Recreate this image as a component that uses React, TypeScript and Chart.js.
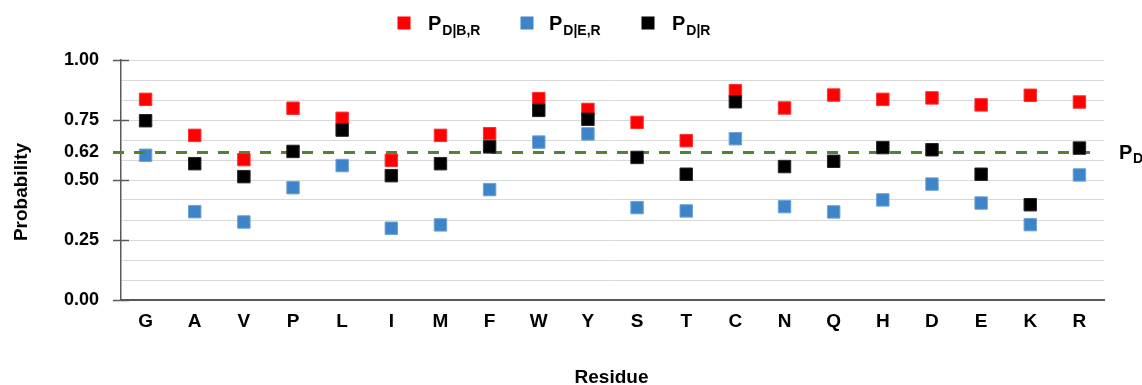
import React, { useEffect, useRef } from 'react';
import { Chart, registerables } from 'chart.js';

Chart.register(...registerables);

// ---- data ----
const residues = ['G', 'A', 'V', 'P', 'L', 'I', 'M', 'F', 'W', 'Y', 'S', 'T', 'C', 'N', 'Q', 'H', 'D', 'E', 'K', 'R'];
const pDBR = [0.836, 0.686, 0.585, 0.799, 0.757, 0.582, 0.686, 0.693, 0.839, 0.794, 0.740, 0.664, 0.872, 0.800, 0.854, 0.836, 0.842, 0.813, 0.853, 0.825];
const pDER = [0.603, 0.368, 0.325, 0.468, 0.560, 0.299, 0.313, 0.460, 0.658, 0.692, 0.385, 0.371, 0.672, 0.389, 0.367, 0.417, 0.483, 0.404, 0.314, 0.521];
const pDR = [0.747, 0.568, 0.514, 0.619, 0.708, 0.518, 0.568, 0.638, 0.790, 0.753, 0.594, 0.524, 0.826, 0.556, 0.578, 0.635, 0.626, 0.524, 0.397, 0.633];
const PD = 0.615;
const PD_LABEL = '0.62';
const majorTicks = [0, 0.25, 0.5, 0.75, 1.0];
const gridValues = [0, 1 / 12, 2 / 12, 3 / 12, 4 / 12, 5 / 12, 6 / 12, 7 / 12, 8 / 12, 9 / 12, 10 / 12, 11 / 12, 1];
const legendItems = [
  { main: 'P', sub: 'D|B,R', color: '#FF0000' },
  { main: 'P', sub: 'D|E,R', color: '#3E84C8' },
  { main: 'P', sub: 'D|R', color: '#000000' },
];

const FONT = "'Liberation Sans', Arial, sans-serif";
const AXIS_COLOR = '#595959';

const isMajor = (v: number) => majorTicks.some((m) => Math.abs(m - v) < 1e-6);

const overlayPlugin = {
  id: 'overlay',
  beforeDatasetDraw(chart: any, args: any) {
    if (args.index !== 0) return;
    const { ctx, chartArea } = chart;
    const y = chart.scales.y.getPixelForValue(PD);
    ctx.save();
    ctx.strokeStyle = '#548235';
    ctx.lineWidth = 3;
    ctx.setLineDash([11, 10]);
    ctx.beginPath();
    ctx.moveTo(chartArea.left - 8, y);
    ctx.lineTo(chartArea.right - 7, y);
    ctx.stroke();
    ctx.restore();
  },
  afterDraw(chart: any) {
    const { ctx, chartArea } = chart;
    const yScale = chart.scales.y;
    ctx.save();
    // major tick marks crossing the axis
    ctx.strokeStyle = AXIS_COLOR;
    ctx.lineWidth = 1.5;
    majorTicks.forEach((v) => {
      const y = Math.round(yScale.getPixelForValue(v)) + 0.5;
      ctx.beginPath();
      ctx.moveTo(chartArea.left - 8, y);
      ctx.lineTo(chartArea.left + 8, y);
      ctx.stroke();
    });

    ctx.fillStyle = '#000';
    // legend
    const squareX = [404, 527, 648];
    const textX = [428, 549, 672];
    legendItems.forEach((it, i) => {
      ctx.fillStyle = it.color;
      ctx.fillRect(squareX[i] - 6.5, 23 - 6.5, 13, 13);
      ctx.fillStyle = '#000';
      ctx.textAlign = 'left';
      ctx.textBaseline = 'alphabetic';
      ctx.font = `bold 20px ${FONT}`;
      ctx.fillText(it.main, textX[i], 29.5);
      const w = ctx.measureText(it.main).width;
      ctx.font = `bold 14px ${FONT}`;
      ctx.fillText(it.sub, textX[i] + w + 1, 34.5);
    });

    // P_D label at right of dashed line
    const yPD = yScale.getPixelForValue(PD);
    ctx.font = `bold 20px ${FONT}`;
    ctx.textAlign = 'left';
    ctx.textBaseline = 'alphabetic';
    ctx.fillText('P', 1119, yPD + 7);
    ctx.font = `bold 14px ${FONT}`;
    ctx.fillText('D', 1133, yPD + 11);

    // y axis title
    ctx.save();
    ctx.translate(22, 192);
    ctx.rotate(-Math.PI / 2);
    ctx.font = `bold 19px ${FONT}`;
    ctx.textAlign = 'center';
    ctx.textBaseline = 'middle';
    ctx.fillText('Probability', 0, 0);
    ctx.restore();

    // x axis title
    ctx.font = `bold 19px ${FONT}`;
    ctx.textAlign = 'center';
    ctx.textBaseline = 'alphabetic';
    ctx.fillText('Residue', (chartArea.left + chartArea.right) / 2 - 1, 383);
    ctx.restore();
  },
};

export default function App() {
  const canvasRef = useRef<HTMLCanvasElement | null>(null);

  useEffect(() => {
    if (!canvasRef.current) return;
    const mk = (data: number[], fill: string, border: string, order: number) => ({
      data,
      backgroundColor: fill,
      borderColor: border,
      borderWidth: 1,
      pointStyle: 'rect',
      pointRadius: 8.8,
      pointHoverRadius: 8.8,
      showLine: false,
      order,
      clip: false as any,
    });
    const chart = new Chart(canvasRef.current, {
      type: 'line',
      data: {
        labels: residues,
        datasets: [
          mk(pDBR, '#FF0000', '#FF3030', 1),
          mk(pDER, '#3E84C8', '#6FA3D8', 2),
          mk(pDR, '#000000', '#262626', 0),
        ],
      },
      options: {
        animation: false,
        responsive: true,
        maintainAspectRatio: false,
        events: [],
        layout: { padding: { top: 60, right: 38, left: 0, bottom: 0 } },
        plugins: {
          legend: { display: false },
          tooltip: { enabled: false },
          title: { display: false },
        },
        scales: {
          x: {
            type: 'category',
            offset: true,
            grid: { display: false, drawTicks: false },
            border: { display: true, color: AXIS_COLOR, width: 2 },
            ticks: {
              color: '#000',
              font: { family: FONT, size: 19, weight: 'bold' },
              padding: 10,
              maxRotation: 0,
              autoSkip: false,
            },
            afterFit: (scale: any) => {
              scale.height = 85;
            },
          },
          y: {
            type: 'linear',
            min: 0,
            max: 1,
            grid: {
              drawTicks: false,
              color: (ctx: any) =>
                ctx.tick && Math.abs(ctx.tick.value - PD) < 1e-6 ? 'rgba(0,0,0,0)' : '#D9D9D9',
              lineWidth: 1,
            },
            border: { display: true, color: AXIS_COLOR, width: 1.5 },
            ticks: {
              color: '#000',
              font: { family: FONT, size: 18, weight: 'bold' },
              padding: 22,
              autoSkip: false,
              callback: (v: any) => {
                const n = Number(v);
                if (Math.abs(n - PD) < 1e-6) return PD_LABEL;
                if (isMajor(n)) return n.toFixed(2);
                return '';
              },
            },
            afterBuildTicks: (scale: any) => {
              const vals = gridValues.concat([PD]).sort((a, b) => a - b);
              scale.ticks = vals.map((v) => ({ value: v }));
            },
            afterFit: (scale: any) => {
              scale.width = 121;
            },
          },
        },
      },
      plugins: [overlayPlugin],
    } as any);
    return () => chart.destroy();
  }, []);

  return (
    <div style={{ position: 'fixed', left: 0, top: 0, width: 1142, height: 385, background: '#fff' }}>
      <canvas ref={canvasRef} />
    </div>
  );
}
